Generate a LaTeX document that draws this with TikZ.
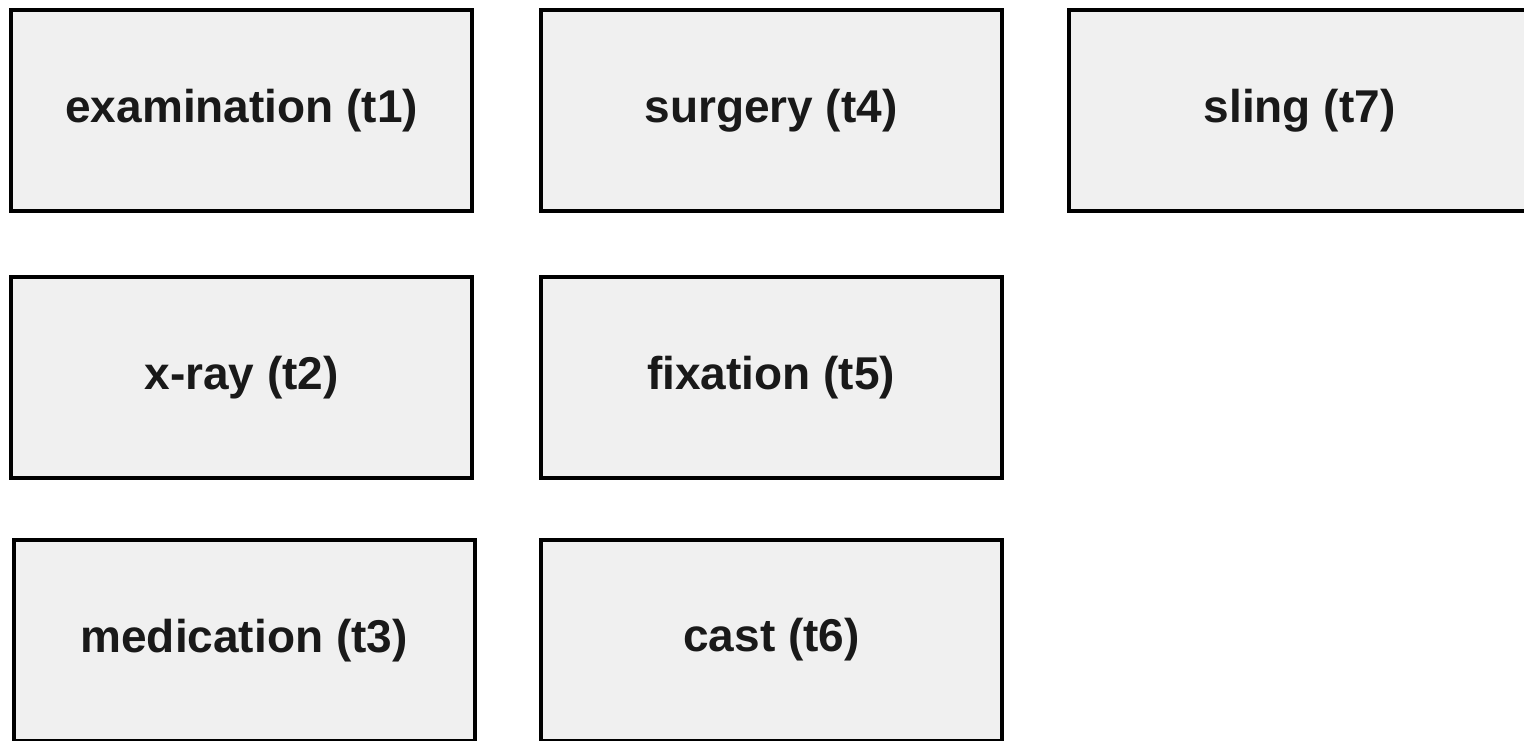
\documentclass[tikz,border=0pt]{standalone}
\usepackage{fontspec}
\setmainfont{Liberation Sans}
\definecolor{boxfill}{HTML}{F0F0F0}
\begin{document}
\begin{tikzpicture}[x=1pt,y=1pt,
  task/.style={draw=black, line width=4pt, fill=boxfill, rectangle,
    minimum width=461pt, minimum height=201pt, inner sep=0pt,
    font=\fontsize{46}{50}\selectfont\bfseries, text=black!90}]
  \useasboundingbox (0,0) rectangle (1524,740);
  \fill[white] (0,0) rectangle (1524,740);
  \clip (0,0) rectangle (1524,740);
  % first row
  \node[task] (t1) at (241.75,629.5) {examination (t1)};
  \node[task] (t4) at (771,629.5) {surgery (t4)};
  \node[task] (t7) at (1299.5,629.5) {sling (t7)};
  % second row
  \node[task] (t2) at (241.75,362.5) {x-ray (t2)};
  \node[task] (t5) at (771,362.5) {fixation (t5)};
  % third row
  \node[task] (t3) at (244,99.5) {medication (t3)};
  \node[task] (t6) at (771.5,100) {cast (t6)};
\end{tikzpicture}
\end{document}
